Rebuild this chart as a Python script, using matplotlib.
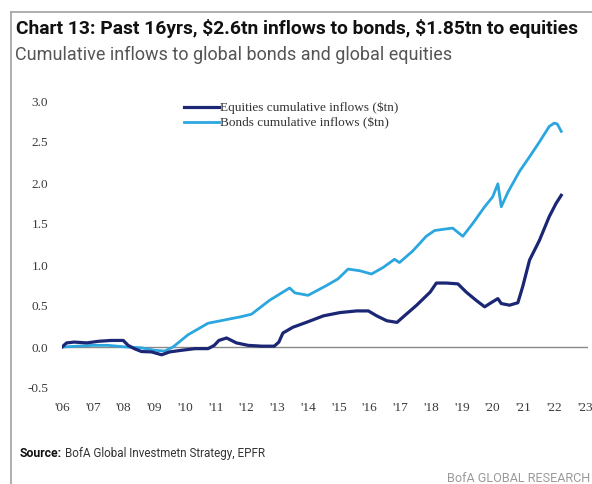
import matplotlib
matplotlib.use("Agg")
import matplotlib.pyplot as plt
from matplotlib.lines import Line2D

# Cumulative flows, $tn
eq_years = [2006.0, 2006.15, 2006.4, 2006.8, 2007.2, 2007.6, 2007.99, 2008.15, 2008.35,
            2008.58, 2008.91, 2009.24, 2009.5, 2009.89, 2010.32, 2010.75, 2010.95, 2011.1,
            2011.35, 2011.67, 2012.05, 2012.5, 2012.9, 2013.05, 2013.18, 2013.5, 2013.94,
            2014.5, 2015.04, 2015.58, 2015.96, 2016.23, 2016.56, 2016.89, 2017.1, 2017.53,
            2017.97, 2018.17, 2018.49, 2018.87, 2019.14, 2019.46, 2019.74, 2019.95, 2020.17,
            2020.28, 2020.55, 2020.82, 2020.98, 2021.2, 2021.52, 2021.84, 2022.06, 2022.23]
eq_values = [0.0, 0.05, 0.06, 0.05, 0.07, 0.08, 0.08, 0.02, -0.02,
             -0.055, -0.06, -0.095, -0.06, -0.04, -0.02, -0.02, 0.02, 0.08,
             0.11, 0.05, 0.02, 0.01, 0.01, 0.06, 0.17, 0.24, 0.30,
             0.38, 0.42, 0.44, 0.44, 0.38, 0.32, 0.30, 0.37, 0.51,
             0.67, 0.78, 0.78, 0.77, 0.67, 0.57, 0.49, 0.54, 0.59,
             0.53, 0.51, 0.54, 0.74, 1.06, 1.30, 1.59, 1.75, 1.85]

bd_years = [2006.0, 2006.5, 2007.0, 2007.5, 2008.1, 2008.58, 2009.02, 2009.34, 2009.61,
            2010.1, 2010.75, 2011.29, 2011.83, 2012.16, 2012.75, 2013.4, 2013.57, 2014.0,
            2014.6, 2014.97, 2015.3, 2015.68, 2016.06, 2016.44, 2016.81, 2016.97, 2017.4,
            2017.84, 2018.11, 2018.49, 2018.7, 2019.03, 2019.36, 2019.74, 2020.0, 2020.17,
            2020.28, 2020.5, 2020.87, 2021.2, 2021.52, 2021.84, 2022.0, 2022.1, 2022.23]
bd_values = [0.0, 0.01, 0.02, 0.02, 0.0, -0.01, -0.04, -0.05, 0.0,
             0.15, 0.29, 0.33, 0.37, 0.40, 0.57, 0.72, 0.66, 0.63,
             0.75, 0.83, 0.95, 0.93, 0.89, 0.97, 1.07, 1.03, 1.17,
             1.35, 1.42, 1.44, 1.45, 1.35, 1.51, 1.71, 1.83, 1.99,
             1.71, 1.89, 2.14, 2.32, 2.50, 2.69, 2.73, 2.72, 2.63]

tick_years = list(range(2006, 2024))
tick_labels = ["'%02d" % (y % 100) for y in tick_years]
y_ticks = [-0.5, 0.0, 0.5, 1.0, 1.5, 2.0, 2.5, 3.0]

NAVY = "#1b2674"
SKY = "#2ba6df"
SANS = "Roboto"
SERIF = "Liberation Serif"

fig = plt.figure(figsize=(5.92, 4.84), dpi=100)
W, H = 592, 484
renderer = fig.canvas.get_renderer()


def fx(px):
    return px / W


def fy(py):
    return 1 - py / H


def fit_width(txt, target_px):
    """Rescale a text's font size so its rendered width is target_px."""
    w = txt.get_window_extent(renderer=renderer).width
    txt.set_fontsize(txt.get_fontsize() * target_px / w)


# frame lines around the exhibit
fig.add_artist(Line2D([fx(11), fx(11)], [fy(12), 0], color="#a8a8a8", lw=1.3))
fig.add_artist(Line2D([fx(11), 1], [fy(12), fy(12)], color="#a8a8a8", lw=1.3))

title = fig.text(fx(16), fy(34), "Chart 13: Past 16yrs, \\$2.6tn inflows to bonds, \\$1.85tn to equities",
                 fontfamily=SANS, fontweight="bold", fontsize=14, color="#111111", va="baseline")
fit_width(title, 566)
sub = fig.text(fx(15), fy(60), "Cumulative inflows to global bonds and global equities",
               fontfamily=SANS, fontsize=12, color="#555555", va="baseline")
fit_width(sub, 434)

ax = fig.add_axes([fx(62), fy(388), fx(588) - fx(62), fy(101) - fy(388)])
ax.axhline(0, color="#8a8a8a", lw=1.0, zorder=1)
ax.plot(eq_years, eq_values, color=NAVY, lw=2.3, label="Equities cumulative inflows (\\$tn)", zorder=3)
ax.plot(bd_years, bd_values, color=SKY, lw=2.0, label="Bonds cumulative inflows (\\$tn)", zorder=2)

ax.set_xlim(2006, 2023.1)
ax.set_ylim(-0.5, 3.0)
ax.set_xticks(tick_years)
ax.set_xticklabels(tick_labels)
ax.set_yticks(y_ticks)
ax.set_yticklabels(["%.1f" % v for v in y_ticks])
for s in ax.spines.values():
    s.set_visible(False)
ax.tick_params(axis="both", length=0, labelsize=9.5, labelcolor="#3a3a3a")
ax.tick_params(axis="y", pad=10)
ax.tick_params(axis="x", pad=10)
for lab in ax.get_xticklabels() + ax.get_yticklabels():
    lab.set_fontfamily(SERIF)

leg = ax.legend(loc="upper left", bbox_to_anchor=((183 - 62 - 4) / (588 - 62), 1.015),
                frameon=False, prop={"family": SERIF, "size": 9.5}, handlelength=2.6,
                handletextpad=0.1, labelspacing=0.2, borderaxespad=0)
for t in leg.get_texts():
    t.set_color("#333333")

src_b = fig.text(fx(20), fy(457), "Source:", fontfamily=SANS, fontweight="bold", fontsize=9,
                 color="#111111", va="baseline")
fit_width(src_b, 42)
src = fig.text(fx(65), fy(457), "BofA Global Investmetn Strategy, EPFR", fontfamily=SANS,
               fontsize=9, color="#333333", va="baseline")
fit_width(src, 201)
brand = fig.text(fx(590), fy(482), "BofA GLOBAL RESEARCH", fontfamily=SANS, fontsize=9,
                 color="#9a9a9a", ha="right", va="baseline")
fit_width(brand, 142)

fig.savefig("out.png", dpi=100)
